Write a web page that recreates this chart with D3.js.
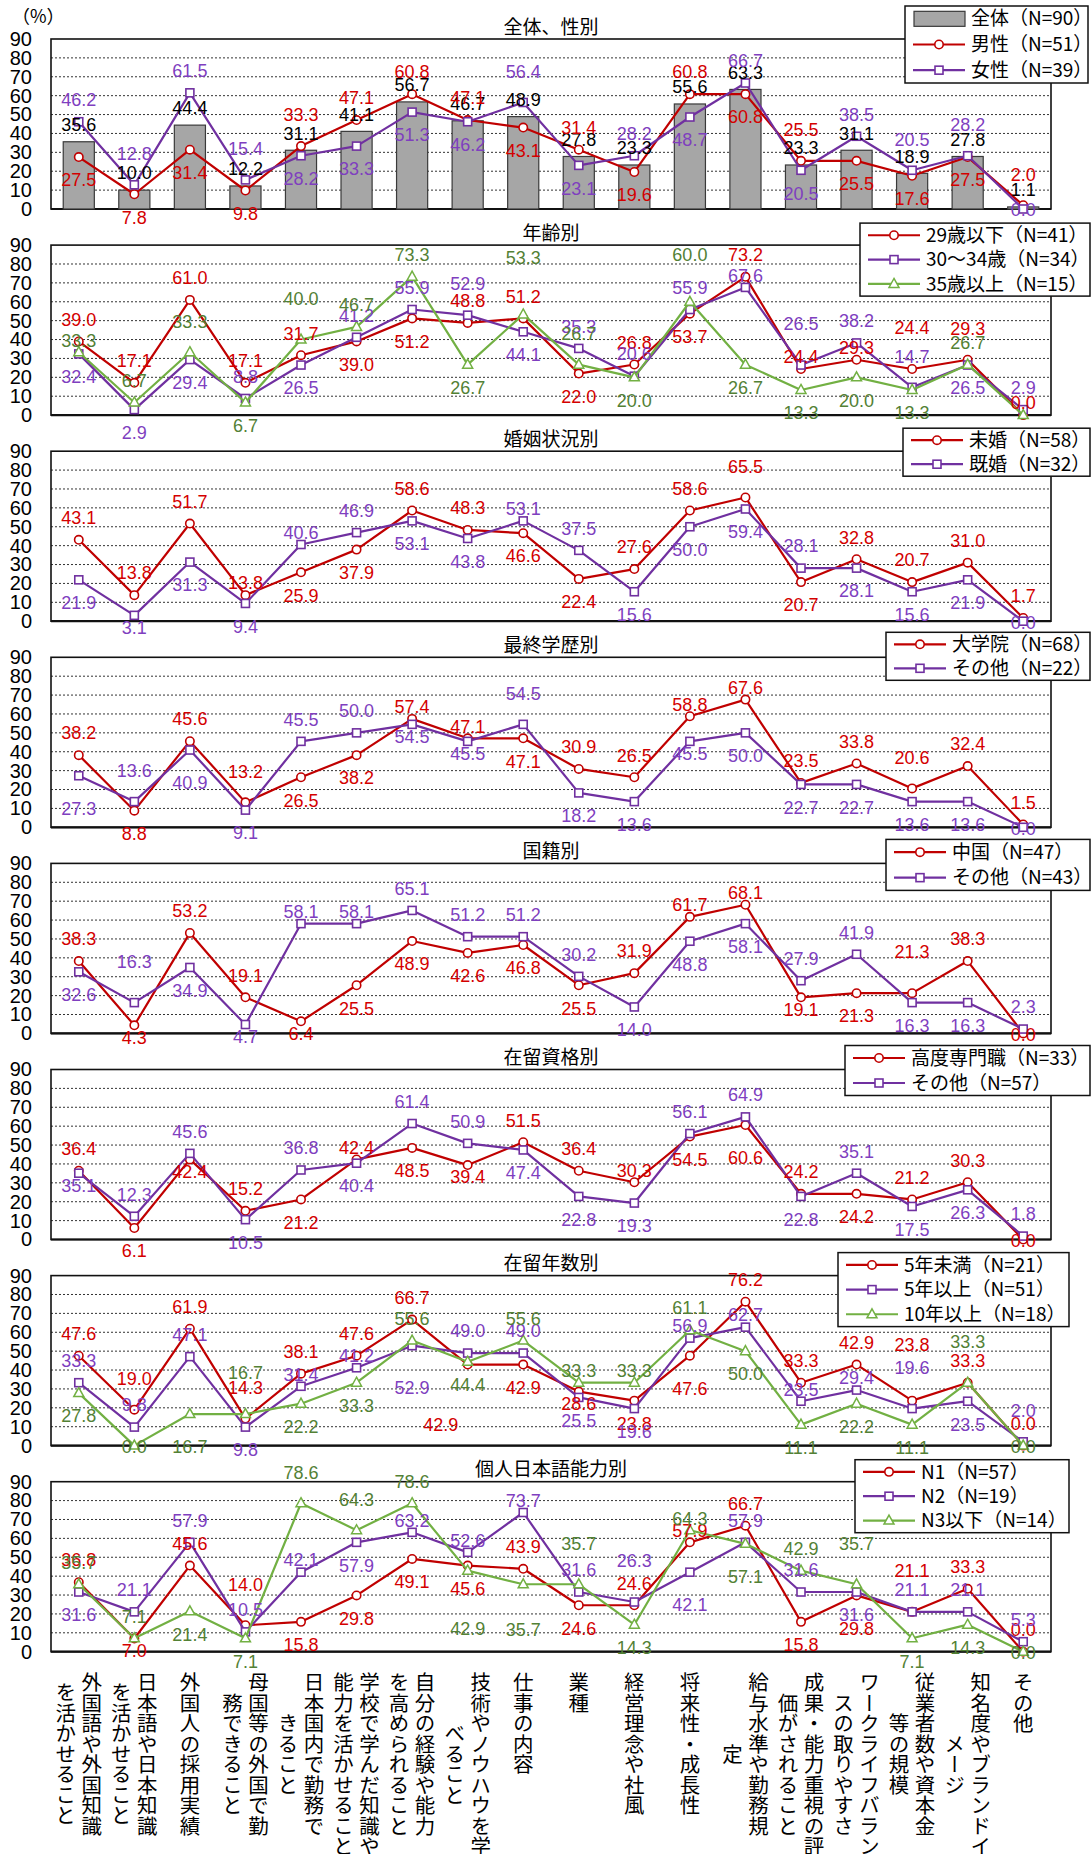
<!DOCTYPE html>
<html><head><meta charset="utf-8">
<script src="https://cdn.jsdelivr.net/npm/d3@7"></script>
<style>body{margin:0;background:#fff}svg{display:block}</style>
</head><body><svg id="c" width="1092" height="1854"></svg>
<script>
// ---------- data ----------
const categoryLines = [
 ["外国語や外国知識","を活かせること"],
 ["日本語や日本知識","を活かせること"],
 ["外国人の採用実績"],
 ["母国等の外国で勤","務できること"],
 ["日本国内で勤務で","きること"],
 ["学校で学んだ知識や","能力を活かせること"],
 ["自分の経験や能力","を高められること"],
 ["技術やノウハウを学","べること"],
 ["仕事の内容"],
 ["業種"],
 ["経営理念や社風"],
 ["将来性・成長性"],
 ["給与水準や勤務規","定"],
 ["成果・能力重視の評","価がされること"],
 ["ワークライフバラン","スの取りやすさ"],
 ["従業者数や資本金","等の規模"],
 ["知名度やブランドイ","メージ"],
 ["その他"]
];
const yTicks = [0,10,20,30,40,50,60,70,80,90];
const panelTitles = ["全体、性別","年齢別","婚姻状況別","最終学歴別","国籍別","在留資格別","在留年数別","個人日本語能力別"];

const total   = [35.6,10.0,44.4,12.2,31.1,41.1,56.7,46.7,48.9,27.8,23.3,55.6,63.3,23.3,31.1,18.9,27.8,1.1];
const male    = [27.5,7.8,31.4,9.8,33.3,47.1,60.8,47.1,43.1,31.4,19.6,60.8,60.8,25.5,25.5,17.6,27.5,2.0];
const female  = [46.2,12.8,61.5,15.4,28.2,33.3,51.3,46.2,56.4,23.1,28.2,48.7,66.7,20.5,38.5,20.5,28.2,0.0];

const age29   = [39.0,17.1,61.0,17.1,31.7,39.0,51.2,48.8,51.2,22.0,26.8,53.7,73.2,24.4,29.3,24.4,29.3,0.0];
const age3034 = [32.4,2.9,29.4,8.8,26.5,41.2,55.9,52.9,44.1,35.3,20.6,55.9,67.6,26.5,38.2,14.7,26.5,2.9];
const age35   = [33.3,6.7,33.3,6.7,40.0,46.7,73.3,26.7,53.3,26.7,20.0,60.0,26.7,13.3,20.0,13.3,26.7,0.0];

const unmarried = [43.1,13.8,51.7,13.8,25.9,37.9,58.6,48.3,46.6,22.4,27.6,58.6,65.5,20.7,32.8,20.7,31.0,1.7];
const married   = [21.9,3.1,31.3,9.4,40.6,46.9,53.1,43.8,53.1,37.5,15.6,50.0,59.4,28.1,28.1,15.6,21.9,0.0];

const graduate = [38.2,8.8,45.6,13.2,26.5,38.2,57.4,47.1,47.1,30.9,26.5,58.8,67.6,23.5,33.8,20.6,32.4,1.5];
const eduOther = [27.3,13.6,40.9,9.1,45.5,50.0,54.5,45.5,54.5,18.2,13.6,45.5,50.0,22.7,22.7,13.6,13.6,0.0];

const china    = [38.3,4.3,53.2,19.1,6.4,25.5,48.9,42.6,46.8,25.5,31.9,61.7,68.1,19.1,21.3,21.3,38.3,0.0];
const natOther = [32.6,16.3,34.9,4.7,58.1,58.1,65.1,51.2,51.2,30.2,14.0,48.8,58.1,27.9,41.9,16.3,16.3,2.3];

const hsp         = [36.4,6.1,42.4,15.2,21.2,42.4,48.5,39.4,51.5,36.4,30.3,54.5,60.6,24.2,24.2,21.2,30.3,0.0];
const statusOther = [35.1,12.3,45.6,10.5,36.8,40.4,61.4,50.9,47.4,22.8,19.3,56.1,64.9,22.8,35.1,17.5,26.3,1.8];

const under5  = [47.6,19.0,61.9,14.3,38.1,47.6,66.7,42.9,42.9,28.6,23.8,47.6,76.2,33.3,42.9,23.8,33.3,0.0];
const over5   = [33.3,9.8,47.1,9.8,31.4,41.2,52.9,49.0,49.0,25.5,19.6,56.9,62.7,23.5,29.4,19.6,23.5,2.0];
const over10  = [27.8,0.0,16.7,16.7,22.2,33.3,55.6,44.4,55.6,33.3,33.3,61.1,50.0,11.1,22.2,11.1,33.3,0.0];

const jlptN1  = [36.8,7.0,45.6,14.0,15.8,29.8,49.1,45.6,43.9,24.6,24.6,57.9,66.7,15.8,29.8,21.1,33.3,0.0];
const jlptN2  = [31.6,21.1,57.9,10.5,42.1,57.9,63.2,52.6,73.7,31.6,26.3,42.1,57.9,31.6,31.6,21.1,21.1,5.3];
const jlptN3  = [35.7,7.1,21.4,7.1,78.6,64.3,78.6,42.9,35.7,35.7,14.3,64.3,57.1,42.9,35.7,7.1,14.3,0.0];

// ---------- styles / layout ----------
const RED = {line:"#c00000", label:"#d40000", shape:"circle"};
const PUR = {line:"#7030a0", label:"#7f3fbf", shape:"square"};
const GRN = {line:"#72b043", label:"#538135", shape:"triangle"};

// label placement codes (label centre offset from the point)
const OFF = {a:-22, A:-31, U:-41, n:-12, b:23, B:33, d:12, c:1, t:-17};

const panels = [
 {title:panelTitles[0], legend:[905,1088,-33,44], series:[
   {name:"全体（N=90）", values:total, bar:true, pos:"tttttttttttttttttt"},
   {name:"男性（N=51）", values:male, st:RED, pos:"bbbbAaaabababAbbbA"},
   {name:"女性（N=39）", values:female, st:PUR, pos:"aAaAbbbbAbababaAAc"}]},
 {title:panelTitles[1], legend:[860,1090,-22,51], series:[
   {name:"29歳以下（N=41）", values:age29, st:RED, pos:"aaaaabbaababannUAn"},
   {name:"30～34歳（N=34）", values:age3034, st:PUR, pos:"bbbabaaAbaaanUaAba"},
   {name:"35歳以上（N=15）", values:age35, st:GRN, pos:"naAbUaabaAbabbbbab"}]},
 {title:panelTitles[2], legend:[903,1090,-23,25], series:[
   {name:"未婚（N=58）", values:unmarried, st:RED, pos:"aaanbbaabbaaAbaaaa"},
   {name:"既婚（N=32）", values:married, st:PUR, pos:"bdbbnabbnabbbabbbc"}]},
 {title:panelTitles[3], legend:[886,1090,-25,23], series:[
   {name:"大学院（N=68）", values:graduate, st:RED, pos:"abaAbbnnbaannaaAaa"},
   {name:"その他（N=22）", values:eduOther, st:PUR, pos:"BABbaaddAbbdbbbbbc"}]},
 {title:panelTitles[4], legend:[886,1090,-24,27], series:[
   {name:"中国（N=47）", values:china, st:RED, pos:"adaadbbbbbanndbUac"},
   {name:"その他（N=43）", values:natOther, st:PUR, pos:"bUbdnnaaaabbbaabba"}]},
 {title:panelTitles[5], legend:[845,1090,-24,26], series:[
   {name:"高度専門職（N=33）", values:hsp, st:RED, pos:"abdabnbdaanbBabaac"},
   {name:"その他（N=57）", values:statusOther, st:PUR, pos:"daababaabbbaababba"}]},
 {title:panelTitles[6], legend:[838,1069,-23,51], series:[
   {name:"5年未満（N=21）", values:under5, st:RED, pos:"aAaAaaabbdbBaaaaaa"},
   {name:"5年以上（N=51）", values:over5, st:PUR, pos:"aaabnnbaabbnnnnUbA"},
   {name:"10年以上（N=18）", values:over10, st:GRN, pos:"bcBUbbabannabbbbUc"}]},
 {title:panelTitles[7], legend:[855,1069,-22,51], series:[
   {name:"N1（N=57）", values:jlptN1, st:RED, pos:"adaUbbbbabanabBUaa"},
   {name:"N2（N=19）", values:jlptN2, st:PUR, pos:"baaanbnnnaUBaabaaa"},
   {name:"N3以下（N=14）", values:jlptN3, st:GRN, pos:"aabbAAabbUbnBaUbbc"}]}
];
// individual label nudges: "panel-series-category": [dx, dy]
const labelNudges = {
 "1-2-8":[0,-57], "1-2-11":[0,-47],
 "6-0-7":[-27,60], "6-0-15":[0,-56], "6-1-6":[0,42],
 "7-2-7":[0,58], "7-2-8":[0,45]
};

const PLOT_L = 51, PLOT_R = 1051, FIRST_TOP = 39, PANEL_STEP = 206.1, PLOT_H = 170;
const LATIN = "'Liberation Sans', Arial, 'Noto Sans CJK JP', sans-serif";
const CJK = "'Noto Sans CJK JP', 'Noto Sans CJK SC', sans-serif";

const svg = d3.select("#c");
const x = d3.scaleBand().domain(d3.range(categoryLines.length)).range([PLOT_L, PLOT_R]);
const cx = i => x(i) + x.bandwidth()/2;

svg.append("text").attr("x",12).attr("y",17).attr("dy","0.35em")
  .attr("font-family",CJK).attr("font-size",18).text("（%）");

function marker(g, shape, px, py, color){
  if(shape==="circle") g.append("circle").attr("cx",px).attr("cy",py).attr("r",4.2)
      .attr("fill","#fff").attr("stroke",color).attr("stroke-width",1.6);
  else if(shape==="square") g.append("rect").attr("x",px-4).attr("y",py-4).attr("width",8).attr("height",8)
      .attr("fill","#fff").attr("stroke",color).attr("stroke-width",1.6);
  else g.append("path").attr("d",`M${px},${py-5.5}L${px+5},${py+3.5}L${px-5},${py+3.5}Z`)
      .attr("fill","#fff").attr("stroke",color).attr("stroke-width",1.5);
}

panels.forEach((p, pi) => {
  const top = FIRST_TOP + PANEL_STEP*pi, zero = top + PLOT_H;
  const y = d3.scaleLinear().domain([0,90]).range([zero, top]);
  const g = svg.append("g");

  g.append("text").attr("x",(PLOT_L+PLOT_R)/2).attr("y",top-12).attr("dy","0.35em")
    .attr("text-anchor","middle").attr("font-family",CJK).attr("font-size",19).text(p.title);

  g.selectAll(".grid").data(yTicks.filter(t=>t>0 && t<90)).join("line")
    .attr("x1",PLOT_L).attr("x2",PLOT_R).attr("y1",d=>y(d)).attr("y2",d=>y(d))
    .attr("stroke","#333").attr("stroke-width",1).attr("stroke-dasharray","2,2");

  const ax = g.append("g").attr("transform",`translate(${PLOT_L},0)`)
    .call(d3.axisLeft(y).tickValues(yTicks).tickSize(0).tickPadding(19).tickFormat(d3.format("d")));
  ax.select(".domain").remove();
  ax.selectAll("text").attr("font-family",LATIN).attr("font-size",20).attr("fill","#000");

  g.append("rect").attr("x",PLOT_L).attr("y",top).attr("width",PLOT_R-PLOT_L).attr("height",PLOT_H)
    .attr("fill","none").attr("stroke","#111").attr("stroke-width",1.6);
  g.append("line").attr("x1",PLOT_L).attr("x2",PLOT_R).attr("y1",zero).attr("y2",zero)
    .attr("stroke","#111").attr("stroke-width",2.2);

  p.series.filter(s=>s.bar).forEach(s=>{
    const bw = x.bandwidth()*0.56;
    g.selectAll(".bar").data(s.values).join("rect")
      .attr("x",(d,i)=>cx(i)-bw/2).attr("y",d=>y(d)).attr("width",bw).attr("height",d=>zero-y(d))
      .attr("fill","#a6a6a6").attr("stroke","#3a3a3a").attr("stroke-width",1.2);
  });
  p.series.filter(s=>!s.bar).forEach(s=>{
    const line = d3.line().x((d,i)=>cx(i)).y(d=>y(d));
    g.append("path").attr("d",line(s.values)).attr("fill","none")
      .attr("stroke",s.st.line).attr("stroke-width",2.2).attr("stroke-linejoin","round");
    s.values.forEach((v,i)=>marker(g, s.st.shape, cx(i), y(v), s.st.line));
  });
  p.series.forEach((s,si)=>{
    s.values.forEach((v,i)=>{
      const nudge = labelNudges[`${pi}-${si}-${i}`];
      const dx = nudge ? nudge[0] : 0;
      const dy = nudge ? nudge[1] : OFF[s.pos[i]];
      g.append("text").attr("x",cx(i)+dx).attr("y",y(v)+dy).attr("dy","0.35em")
        .attr("text-anchor","middle").attr("font-family",LATIN).attr("font-size",18)
        .attr("fill", s.bar ? "#000" : s.st.label).text(v.toFixed(1));
    });
  });

  const [lx0,lx1,ly0,ly1] = p.legend;
  const bt = top+ly0, bh = ly1-ly0, n = p.series.length;
  const lg = svg.append("g");
  lg.append("rect").attr("x",lx0).attr("y",bt).attr("width",lx1-lx0).attr("height",bh)
    .attr("fill","#fff").attr("stroke","#111").attr("stroke-width",1.5);
  p.series.forEach((s,k)=>{
    const ry = bt + bh/n*(k+0.5);
    if(s.bar){
      lg.append("rect").attr("x",lx0+9).attr("y",ry-7.5).attr("width",51).attr("height",15)
        .attr("fill","#a6a6a6").attr("stroke","#3a3a3a").attr("stroke-width",1.2);
    } else {
      lg.append("line").attr("x1",lx0+8).attr("x2",lx0+60).attr("y1",ry).attr("y2",ry)
        .attr("stroke",s.st.line).attr("stroke-width",2.2);
      marker(lg, s.st.shape, lx0+34, ry, s.st.line);
    }
    lg.append("text").attr("x",lx0+66).attr("y",ry).attr("dy","0.35em")
      .attr("font-family",CJK).attr("font-size",19).attr("fill","#000").text(s.name);
  });
});

// category labels (vertical)
const LABEL_TOP = 1672, FS = 20.5, COL_GAP = 26;
categoryLines.forEach((lines,i)=>{
  const maxLen = d3.max(lines, l=>l.length);
  const cy = LABEL_TOP + maxLen*FS/2;
  lines.forEach((line,j)=>{
    svg.append("text").attr("x", cx(i) + ((lines.length-1)/2 - j)*COL_GAP).attr("y", cy)
      .attr("text-anchor","middle").style("writing-mode","vertical-rl")
      .attr("font-family",CJK).attr("font-size",FS).attr("fill","#000").text(line);
  });
});
</script></body></html>
